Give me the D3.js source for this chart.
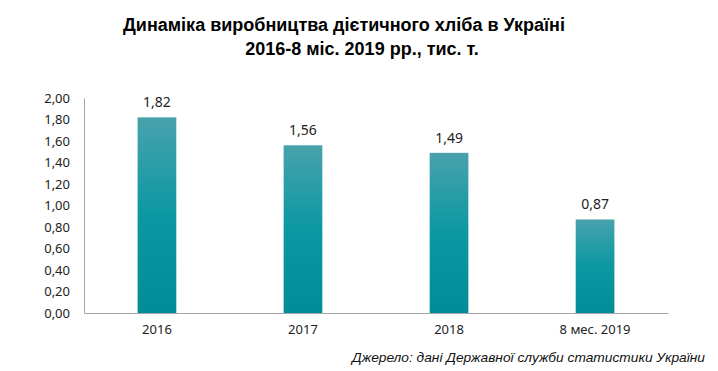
<!DOCTYPE html>
<html><head><meta charset="utf-8">
<script src="https://cdn.jsdelivr.net/npm/d3@7"></script>
<style>body{margin:0;background:#fff}svg{display:block}</style>
</head><body>
<script>
const categories = ["2016", "2017", "2018", "8 мес. 2019"];
const values = [1.82, 1.56, 1.49, 0.87];
const yTicks = [0, 0.2, 0.4, 0.6, 0.8, 1.0, 1.2, 1.4, 1.6, 1.8, 2.0];
const titleLines = ["Динаміка виробництва дієтичного хліба в Україні", "2016-8 міс. 2019 рр., тис. т."];
const sourceText = "Джерело: дані Державної служби статистики України";

const W = 718, H = 371;
const svg = d3.select("body").append("svg").attr("width", W).attr("height", H);
const m = {left: 84, right: 50, top: 98, bottom: 58};
const x = d3.scaleBand().domain(categories).range([m.left, W - m.right]).paddingInner(0.735).paddingOuter(0.367);
const y = d3.scaleLinear().domain([0, 2]).range([H - m.bottom, m.top]);
const fmt = v => d3.format(".2f")(v).replace(".", ",");

const defs = svg.append("defs");
const g = defs.append("linearGradient").attr("id", "bg").attr("x1", 0).attr("y1", 0).attr("x2", 0).attr("y2", 1);
g.append("stop").attr("offset", "0%").attr("stop-color", "#48a2ac");
g.append("stop").attr("offset", "50%").attr("stop-color", "#0b98a3");
g.append("stop").attr("offset", "100%").attr("stop-color", "#008c98");

svg.selectAll("text.title").data(titleLines).join("text")
  .attr("x", (d, i) => i === 0 ? 344 : 362).attr("y", (d, i) => 31 + i * 24)
  .attr("text-anchor", "middle").attr("font-family", "Liberation Sans, Arial, sans-serif")
  .attr("font-weight", "bold").attr("font-size", 18).attr("fill", "#000").text(d => d);

// y axis
const yAxis = d3.axisLeft(y).tickValues(yTicks).tickSize(0).tickPadding(14).tickFormat(fmt);
const ya = svg.append("g").attr("transform", `translate(${m.left},0)`).call(yAxis);
ya.select(".domain").attr("stroke", "#a6a6a6");
ya.selectAll("text").attr("font-family", "Noto Sans, sans-serif").attr("font-size", 13).attr("fill", "#222");

// bars
svg.selectAll("rect.bar").data(values).join("rect")
  .attr("x", (d, i) => x(categories[i])).attr("width", x.bandwidth())
  .attr("y", d => y(d)).attr("height", d => y(0) - y(d)).attr("fill", "url(#bg)");

svg.selectAll("text.val").data(values).join("text")
  .attr("x", (d, i) => x(categories[i]) + x.bandwidth() / 2).attr("y", d => y(d) - 10)
  .attr("text-anchor", "middle").attr("font-family", "Noto Sans, sans-serif").attr("font-size", 14)
  .attr("fill", "#222").text(fmt);

// x axis
const xAxis = d3.axisBottom(x).tickSize(0).tickPadding(12);
const xa = svg.append("g").attr("transform", `translate(0,${y(0)})`).call(xAxis);
xa.select(".domain").attr("stroke", "#a6a6a6");
xa.selectAll("text").attr("font-family", "Noto Sans, sans-serif").attr("font-size", 13).attr("fill", "#222");

svg.append("text").attr("x", 705).attr("y", 362).attr("text-anchor", "end")
  .attr("font-family", "Liberation Sans, Arial, sans-serif").attr("font-style", "italic")
  .attr("font-size", 13).attr("textLength", 353).attr("lengthAdjust", "spacingAndGlyphs")
  .attr("fill", "#111").text(sourceText);
</script>
</body></html>
